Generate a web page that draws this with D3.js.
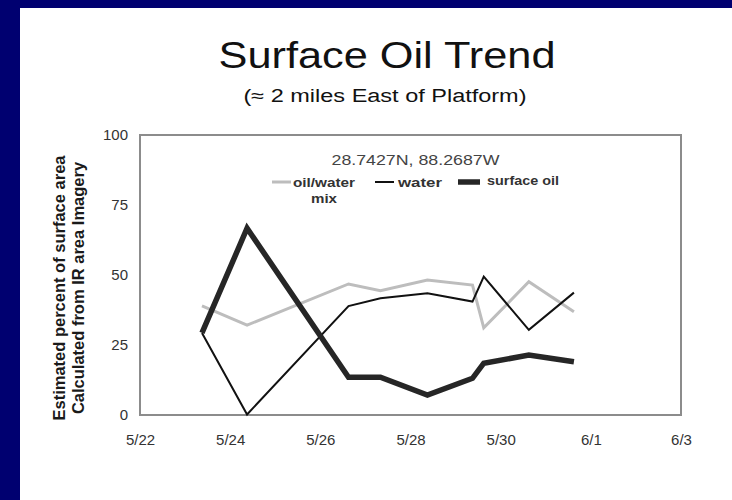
<!DOCTYPE html>
<html><head><meta charset="utf-8">
<script src="https://cdn.jsdelivr.net/npm/d3@7"></script>
<style>html,body{margin:0;padding:0;background:#fff;}svg{display:block;font-family:Arial,"Liberation Sans",sans-serif;}</style>
</head><body>
<svg id="c" width="732" height="500"></svg>
<script>
const dates = ["2010-05-23T09:00","2010-05-24T09:00","2010-05-26T15:00","2010-05-27T08:00","2010-05-28T09:00","2010-05-29T09:00","2010-05-29T15:00","2010-05-30T15:00","2010-05-31T15:00"];
const oilWaterMix = [39.0, 32.1, 46.8, 44.4, 48.2, 46.4, 31.1, 47.6, 36.9];
const water = [29.3, 0.2, 38.9, 41.7, 43.5, 40.5, 49.4, 30.4, 43.7];
const surfaceOil = [29.3, 66.7, 13.5, 13.5, 7.1, 13.1, 18.5, 21.4, 19.0];
const seriesNames = ["oil/water mix", "water", "surface oil"];
const xTickLabels = ["5/22","5/24","5/26","5/28","5/30","6/1","6/3"];
const yTicks = [0, 25, 50, 75, 100];
const titleText = "Surface Oil Trend";
const subtitleText = "(\u2248 2 miles East of Platform)";
const locationText = "28.7427N, 88.2687W";
const yTitleLines = ["Estimated percent of surface area", "Calculated from IR area Imagery"];

const svg = d3.select("#c");
const parse = d3.timeParse("%Y-%m-%dT%H:%M");
const parseTick = d3.timeParse("%m/%d");
const X = dates.map(parse);
const tickDates = xTickLabels.map(s => { const d = parseTick(s); d.setFullYear(2010); return d; });

const L = 140, R = 681, T = 135, B = 415;
const x = d3.scaleTime().domain([tickDates[0], tickDates[tickDates.length-1]]).range([L, R]);
const y = d3.scaleLinear().domain([0, 100]).range([B, T]);

// frame
svg.append("rect").attr("x",0).attr("y",0).attr("width",732).attr("height",500).attr("fill","#fff");
svg.append("rect").attr("x",0).attr("y",0).attr("width",732).attr("height",8).attr("fill","#000070");
svg.append("rect").attr("x",0).attr("y",0).attr("width",20).attr("height",500).attr("fill","#000070");

// titles
svg.append("text").attr("x",387).attr("y",68).attr("text-anchor","middle")
  .attr("font-size",36).attr("fill","#111").attr("textLength",337).attr("lengthAdjust","spacingAndGlyphs").text(titleText);
svg.append("text").attr("x",385).attr("y",101.5).attr("text-anchor","middle")
  .attr("font-size",18).attr("fill","#111").attr("textLength",283).attr("lengthAdjust","spacingAndGlyphs").text(subtitleText);

// plot border
svg.append("rect").attr("x",L).attr("y",T).attr("width",R-L).attr("height",B-T)
  .attr("fill","none").attr("stroke","#8c8c8c").attr("stroke-width",2);

// axes
const fmt = d3.timeFormat("%-m/%-d");
const gx = svg.append("g").attr("transform",`translate(0,${B})`)
  .call(d3.axisBottom(x).tickValues(tickDates).tickFormat(fmt).tickSize(0).tickPadding(19));
gx.select(".domain").remove();
gx.selectAll("text").attr("font-size",15).attr("fill","#333").attr("font-family","Arial,'Liberation Sans',sans-serif");

const gy = svg.append("g").attr("transform",`translate(${L},0)`)
  .call(d3.axisLeft(y).tickValues(yTicks).tickSize(0).tickPadding(12));
gy.select(".domain").remove();
gy.selectAll("text").attr("font-size",15).attr("fill","#333").attr("font-family","Arial,'Liberation Sans',sans-serif");

// y title
const yt = svg.append("g").attr("transform","translate(0,288) rotate(-90)");
yt.selectAll("text").data(yTitleLines).join("text")
  .attr("x",0).attr("y",(d,i)=> i===0 ? 65 : 83.5)
  .attr("text-anchor","middle").attr("font-size",16.5).attr("font-weight","bold").attr("fill","#1a1a1a")
  .text(d=>d);

// series
const styles = [
  {data: oilWaterMix, color:"#bdbdbd", w:3},
  {data: water, color:"#111", w:2},
  {data: surfaceOil, color:"#262626", w:5.5}
];
const line = d3.line().x((d,i)=>x(X[i])).y(d=>y(d));
styles.forEach(s=>{
  svg.append("path").attr("d", line(s.data)).attr("fill","none")
    .attr("stroke", s.color).attr("stroke-width", s.w).attr("stroke-linejoin","miter").attr("stroke-miterlimit",4);
});

// location label
svg.append("text").attr("x",415.5).attr("y",165).attr("text-anchor","middle")
  .attr("font-size",15).attr("fill","#444").attr("textLength",168).attr("lengthAdjust","spacingAndGlyphs").text(locationText);

// legend
const legItems = [
  {x1:272, x2:291, tx:324, lines:["oil/water","mix"], widths:[62,26], anchor:"middle"},
  {x1:375, x2:394, tx:398, lines:["water"], widths:[44], anchor:"start"},
  {x1:458, x2:480, tx:487, lines:["surface oil"], widths:[72], anchor:"start"}
];
legItems.forEach((it,i)=>{
  svg.append("line").attr("x1",it.x1).attr("x2",it.x2).attr("y1",182).attr("y2",182)
    .attr("stroke",styles[i].color).attr("stroke-width",styles[i].w);
  it.lines.forEach((t,j)=>{
    svg.append("text").attr("x",it.tx).attr("y",186.5 + j*16 - (i===2?2:0)).attr("text-anchor",it.anchor)
      .attr("font-size",13).attr("font-weight","bold").attr("fill","#333")
      .attr("textLength",it.widths[j]).attr("lengthAdjust","spacingAndGlyphs").text(t);
  });
});
</script>
</body></html>
